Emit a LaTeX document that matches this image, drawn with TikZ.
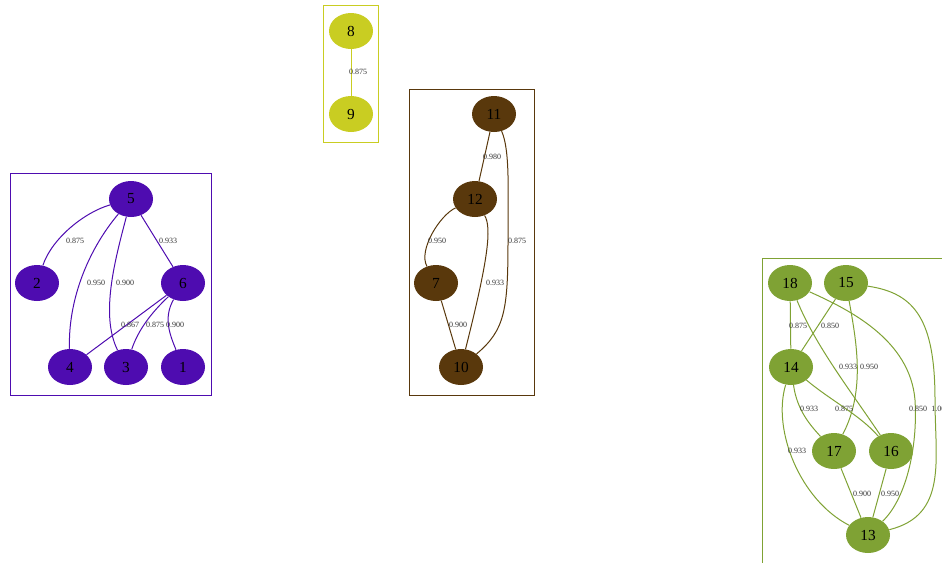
\documentclass[tikz,border=0pt]{standalone}
\usepackage{fontspec}
\setmainfont{Liberation Serif}
\usetikzlibrary{shapes.geometric}
\definecolor{cpur}{HTML}{4E0CB0}
\definecolor{cyel}{HTML}{C9CD22}
\definecolor{cbrn}{HTML}{59380C}
\definecolor{cgrn}{HTML}{7FA234}
\tikzset{
  vnode/.style={ellipse,minimum width=33pt,minimum height=27pt,inner sep=0pt,font=\fontsize{11.5}{13}\selectfont,text=black},
  elab/.style={font=\fontsize{6}{7}\selectfont,text=black!80,inner sep=0pt},
  grp/.style={line width=0.75pt},
  edg/.style={line width=0.75pt},
}
\begin{document}
\begin{tikzpicture}[x=0.75pt,y=-0.75pt]
\useasboundingbox (0,0) rectangle (942,562);
\begin{scope}
\clip (0,0) rectangle (942,562);
% purple group
\draw[grp,cpur] (10,173) rectangle (211,395);
\node[vnode,fill=cpur] (n5) at (131,199) {5};
\node[vnode,fill=cpur] (n2) at (37,283) {2};
\node[vnode,fill=cpur] (n6) at (183,283) {6};
\node[vnode,fill=cpur] (n4) at (70,367) {4};
\node[vnode,fill=cpur] (n3) at (126,367) {3};
\node[vnode,fill=cpur] (n1) at (183,367) {1};
\begin{scope}[edg,cpur]
\draw (n5) .. controls (85,212) and (52,238) .. (n2);
\draw (n5) .. controls (88,250) and (68,300) .. (n4);
\draw (n5) .. controls (115,260) and (100,315) .. (n3);
\draw (n5) -- (n6);
\draw (n6) -- (n4);
\draw (n6) .. controls (152,312) and (138,330) .. (n3);
\draw (n6) .. controls (163,318) and (170,335) .. (n1);
\end{scope}
\node[elab] (l52) at (75,241) {0.875};
\node[elab] (l54) at (96,283) {0.950};
\node[elab] (l53) at (125,283) {0.900};
\node[elab] (l56) at (168,241) {0.933};
\node[elab] (l64) at (130,325) {0.867};
\node[elab] (l63) at (155,325) {0.875};
\node[elab] (l61) at (175,325) {0.900};
% yellow group
\draw[grp,cyel] (323,5) rectangle (378,142);
\node[vnode,fill=cyel] (n8) at (351,31) {8};
\node[vnode,fill=cyel] (n9) at (351,114) {9};
\draw[edg,cyel] (n8) -- (n9);
\node[elab] (l89) at (358,72) {0.875};
% brown group
\draw[grp,cbrn] (409,89) rectangle (534,395);
\node[vnode,fill=cbrn] (n11) at (494,114) {11};
\node[vnode,fill=cbrn] (n12) at (475,199) {12};
\node[vnode,fill=cbrn] (n7) at (436,283) {7};
\node[vnode,fill=cbrn] (n10) at (461,367) {10};
\begin{scope}[edg,cbrn]
\draw (n11) -- (n12);
\draw (n12) .. controls (440,215) and (418,250) .. (n7);
\draw (n12) .. controls (492,228) and (488,260) .. (n10);
\draw (n11) .. controls (510,150) and (508,190) .. (508,240) .. controls (508,310) and (505,330) .. (n10);
\draw (n7) -- (n10);
\end{scope}
\node[elab] (l1112) at (492,157) {0.980};
\node[elab] (l127) at (437,241) {0.950};
\node[elab] (l1210) at (495,283) {0.933};
\node[elab] (l1110) at (517,241) {0.875};
\node[elab] (l710) at (458,325) {0.900};
% green group
\draw[grp,cgrn] (762,570) -- (762,258) -- (950,258);
\node[vnode,fill=cgrn] (n18) at (790,283) {18};
\node[vnode,fill=cgrn] (n15) at (846,283) {15};
\node[vnode,fill=cgrn] (n14) at (791,367) {14};
\node[vnode,fill=cgrn] (n17) at (834,451) {17};
\node[vnode,fill=cgrn] (n16) at (891,451) {16};
\node[vnode,fill=cgrn] (n13) at (868,535) {13};
\begin{scope}[edg,cgrn]
\draw (n18) -- (n14);
\draw (n15) -- (n14);
\draw (n17) -- (n13);
\draw (n16) -- (n13);
\draw (n18) .. controls (815,345) and (850,390) .. (n16);
\draw (n18) .. controls (850,310) and (910,340) .. (915,400) .. controls (918,450) and (905,500) .. (n13);
\draw (n15) .. controls (915,293) and (935,320) .. (935,400) .. controls (935,460) and (948,515) .. (n13);
\draw (n15) .. controls (856,340) and (866,390) .. (n17);
\draw (n14) .. controls (797,410) and (810,425) .. (n17);
\draw (n14) .. controls (830,400) and (860,415) .. (n16);
\draw (n14) .. controls (772,430) and (800,500) .. (n13);
\end{scope}
\node[elab] (l1814) at (798,326) {0.875};
\node[elab] (l1514) at (830,326) {0.850};
\node[elab] (l1816) at (848,367) {0.933};
\node[elab] (l1517) at (869,367) {0.950};
\node[elab] (l1417) at (809,409) {0.933};
\node[elab] (l1416) at (844,409) {0.875};
\node[elab] (l1813) at (918,409) {0.850};
\node[elab,anchor=west] (l1513) at (931,409) {1.000};
\node[elab] (l1413) at (797,451) {0.933};
\node[elab] (l1713) at (862,494) {0.900};
\node[elab] (l1613) at (890,494) {0.950};
\end{scope}
\end{tikzpicture}
\end{document}
